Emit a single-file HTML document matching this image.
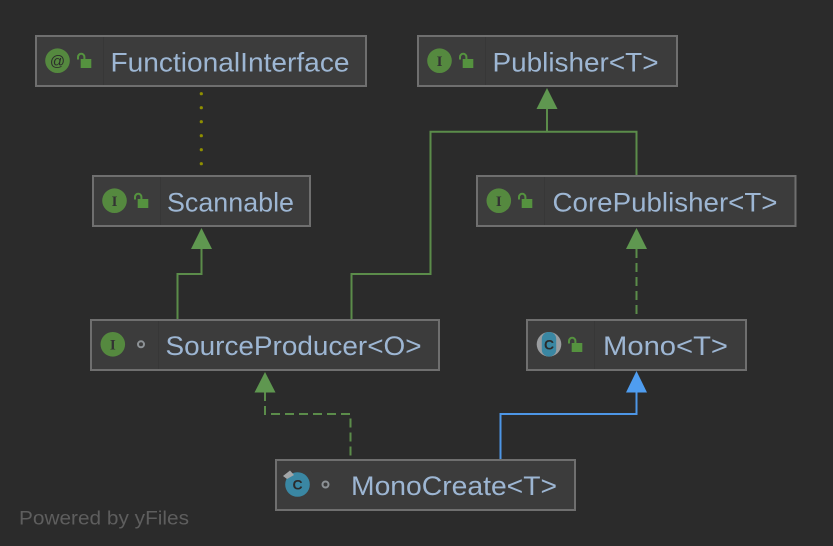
<!DOCTYPE html>
<html>
<head>
<meta charset="utf-8">
<style>
html,body{margin:0;padding:0;background:#2b2b2b;width:833px;height:546px;overflow:hidden}
svg{display:block}
text{font-family:"Liberation Sans",sans-serif}
.n{font-size:27px;fill:#9db6d3}
.b{fill:#3c3c3c;stroke:#6f6f6f;stroke-width:2}
.d{stroke:#373737;stroke-width:1}
.g{fill:none;stroke:#5b8c4a;stroke-width:2}
.i{font-family:"Liberation Serif",serif;font-size:15px;font-weight:bold;fill:#333;text-anchor:middle}
.c{font-size:14px;font-weight:bold;fill:#2b2b2b;text-anchor:middle}
</style>
</head>
<body>
<svg width="833" height="546" viewBox="0 0 833 546" xmlns="http://www.w3.org/2000/svg">
<defs>
<g id="lock">
  <path d="M1 5.500V3a3.200 3.200 0 0 1 6.400 0V5" fill="none" stroke="#55923f" stroke-width="2"/>
  <rect x="3.700" y="5" width="10.600" height="9" fill="#55923f"/>
</g>
<g id="dot"><circle r="3" fill="none" stroke="#8d9296" stroke-width="2"/></g>
</defs>
<rect width="833" height="546" fill="#2b2b2b"/>

<!-- edges -->
<g fill="#8f8f00">
  <circle cx="201.300" cy="93.700" r="1.600"/><circle cx="201.300" cy="107.700" r="1.600"/><circle cx="201.300" cy="121.700" r="1.600"/>
  <circle cx="201.300" cy="135.700" r="1.600"/><circle cx="201.300" cy="149.700" r="1.600"/><circle cx="201.300" cy="163.700" r="1.600"/>
</g>
<path class="g" d="M547 108V131.700M636.500 175V131.700H430.500V274H351.500V319"/>
<path class="g" d="M201.500 248V274H177.500V319"/>
<path class="g" stroke-dasharray="9 5" d="M636.500 249V319"/>
<path class="g" stroke-dasharray="9 5" d="M265 392V414H350.500V459"/>
<path fill="none" stroke="#4d96e6" stroke-width="2" d="M636.500 391V414H500.500V459"/>
<path d="M547 88L557.500 109H536.500Z" fill="#5f9750"/>
<path d="M201.500 228L212 249H191Z" fill="#5f9750"/>
<path d="M636.500 228L647 249H626Z" fill="#5f9750"/>
<path d="M265 372L275.500 392.500H254.500Z" fill="#5f9750"/>
<path d="M636.500 371L647 392.500H626Z" fill="#4f9df0"/>

<!-- FunctionalInterface -->
<rect class="b" x="36" y="36" width="330" height="50"/>
<line class="d" x1="103.500" y1="37" x2="103.500" y2="85"/>
<circle cx="57.500" cy="60.700" r="12.300" fill="#55893f"/>
<text x="57.500" y="66" font-size="15" fill="#2b2b2b" text-anchor="middle">@</text>
<use href="#lock" x="77" y="54"/>
<text class="n" x="110.500" y="71.700" textLength="239" lengthAdjust="spacingAndGlyphs">FunctionalInterface</text>

<!-- Publisher -->
<rect class="b" x="418" y="36" width="259" height="50"/>
<line class="d" x1="485.500" y1="37" x2="485.500" y2="85"/>
<circle cx="439.500" cy="60.700" r="12.300" fill="#55893f"/>
<text class="i" x="439.500" y="66">I</text>
<use href="#lock" x="459" y="54"/>
<text class="n" x="492.500" y="71.700" textLength="166" lengthAdjust="spacingAndGlyphs">Publisher&lt;T&gt;</text>

<!-- Scannable -->
<rect class="b" x="93" y="176" width="217" height="50"/>
<line class="d" x1="160.500" y1="177" x2="160.500" y2="225"/>
<circle cx="114.500" cy="200.700" r="12.300" fill="#55893f"/>
<text class="i" x="114.500" y="206">I</text>
<use href="#lock" x="134" y="194"/>
<text class="n" x="167" y="211.700" textLength="127" lengthAdjust="spacingAndGlyphs">Scannable</text>

<!-- CorePublisher -->
<rect class="b" x="477" y="176" width="318.500" height="50"/>
<line class="d" x1="544.500" y1="177" x2="544.500" y2="225"/>
<circle cx="498.800" cy="200.700" r="12.300" fill="#55893f"/>
<text class="i" x="498.800" y="206">I</text>
<use href="#lock" x="518" y="194"/>
<text class="n" x="552.500" y="211.700" textLength="225" lengthAdjust="spacingAndGlyphs">CorePublisher&lt;T&gt;</text>

<!-- SourceProducer -->
<rect class="b" x="91" y="320" width="348" height="50"/>
<line class="d" x1="158.500" y1="321" x2="158.500" y2="369"/>
<circle cx="112.800" cy="344.300" r="12.300" fill="#55893f"/>
<text class="i" x="112.800" y="349.500">I</text>
<use href="#dot" x="141" y="344.300"/>
<text class="n" x="165.500" y="355" textLength="256" lengthAdjust="spacingAndGlyphs">SourceProducer&lt;O&gt;</text>

<!-- Mono -->
<rect class="b" x="527" y="320" width="219" height="50"/>
<line class="d" x1="594.500" y1="321" x2="594.500" y2="369"/>
<circle cx="549" cy="344.300" r="12.300" fill="#9a9da0"/>
<rect x="541.800" y="332" width="14.400" height="24.600" rx="7" fill="#3a87a3"/>
<text class="c" x="549" y="349.500">C</text>
<use href="#lock" x="568" y="338"/>
<text class="n" x="603" y="355" textLength="125" lengthAdjust="spacingAndGlyphs">Mono&lt;T&gt;</text>

<!-- MonoCreate -->
<rect class="b" x="276" y="460" width="299" height="50"/>
<circle cx="297.500" cy="484.500" r="12.300" fill="#3a87a3"/>
<path d="M283 476L290 470.500L294 475L287 479Z" fill="#a3a6a8"/>
<text class="c" x="297.500" y="489.500">C</text>
<use href="#dot" x="325.500" y="484.500"/>
<text class="n" x="351" y="495" textLength="206" lengthAdjust="spacingAndGlyphs">MonoCreate&lt;T&gt;</text>

<text x="19" y="524.500" font-size="19" fill="#5e5e5e" textLength="170" lengthAdjust="spacingAndGlyphs">Powered by yFiles</text>
</svg>
</body>
</html>
